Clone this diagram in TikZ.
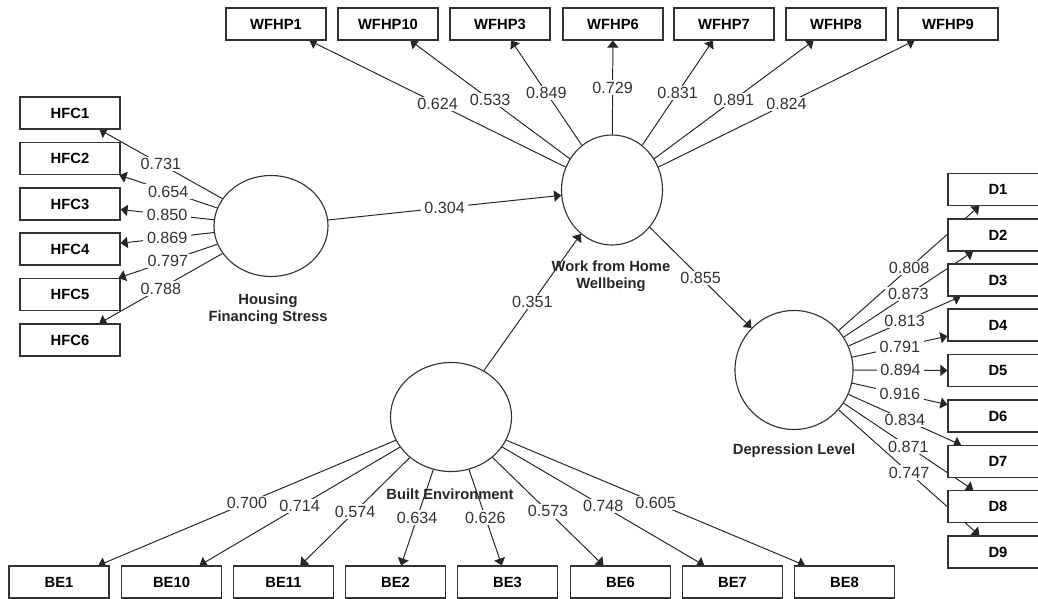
\documentclass[tikz,border=0pt]{standalone}
\usepackage{fontspec}
\setmainfont{Liberation Sans}
\usetikzlibrary{arrows.meta,shapes.geometric,backgrounds}
\tikzset{
	ind/.style={draw=black!80, line width=0.8pt, fill=white, minimum width=2.5cm, minimum height=0.8cm, inner sep=0pt, font=\fontsize{10.5}{12}\selectfont\bfseries},
	lat/.style={draw=black!80, line width=0.8pt, ellipse, fill=white, inner sep=0pt},
	latname/.style={align=center, text=black!85, font=\fontsize{10.5}{12}\selectfont\bfseries},
	ldg/.style={draw=black!85, line width=0.7pt, -{Triangle[length=5pt,width=8pt]}},
	coef/.style={fill=white, inner xsep=2.5pt, inner ysep=1pt, text=black!80, font=\fontsize{11.5}{12}\selectfont},
}

\begin{document}
\begin{tikzpicture}[x=0.025cm, y=-0.025cm]
		%%%%% START %%%%%
		\useasboundingbox (0,0) rectangle (1038,598);
		
		% latent variables
		\node[lat, minimum width=2.85cm, minimum height=2.525cm] (hfs) at (271,226) {};
		\node[latname] (hfsname) at (268,309) {Housing\\Financing Stress};
		\node[lat, minimum width=2.525cm, minimum height=2.75cm] (wfh) at (612,190) {};
		\node[latname] (wfhname) at (611,276) {Work from Home\\Wellbeing};
		\node[lat, minimum width=2.95cm, minimum height=2.975cm] (dep) at (794,370) {};
		\node[latname] (depname) at (794,451) {Depression Level};
		\node[lat, minimum width=3.025cm, minimum height=2.725cm] (be) at (451,417) {};
		\node[latname] (bename) at (450,494) {Built Environment};
		
		% work from home items
		\node[ind] (wfhp1) at (276,24) {WFHP1};
		\node[ind] (wfhp10) at (388,24) {WFHP10};
		\node[ind] (wfhp3) at (500,24) {WFHP3};
		\node[ind] (wfhp6) at (613,24) {WFHP6};
		\node[ind] (wfhp7) at (724,24) {WFHP7};
		\node[ind] (wfhp8) at (836,24) {WFHP8};
		\node[ind] (wfhp9) at (948,24) {WFHP9};
		
		% housing items
		\node[ind] (hfc1) at (70,113) {HFC1};
		\node[ind] (hfc2) at (70,158.5) {HFC2};
		\node[ind] (hfc3) at (70,204) {HFC3};
		\node[ind] (hfc4) at (70,249) {HFC4};
		\node[ind] (hfc5) at (70,294.5) {HFC5};
		\node[ind] (hfc6) at (70,340) {HFC6};
		
		% depression items
		\node[ind] (d1) at (998,189.5) {D1};
		\node[ind] (d2) at (998,235) {D2};
		\node[ind] (d3) at (998,280) {D3};
		\node[ind] (d4) at (998,325) {D4};
		\node[ind] (d5) at (998,370.5) {D5};
		\node[ind] (d6) at (998,416) {D6};
		\node[ind] (d7) at (998,461.5) {D7};
		\node[ind] (d8) at (998,506.5) {D8};
		\node[ind] (d9) at (998,552) {D9};
		
		% built environment items
		\node[ind] (be1) at (59,582) {BE1};
		\node[ind] (be10) at (171.5,582) {BE10};
		\node[ind] (be11) at (283.5,582) {BE11};
		\node[ind] (be2) at (395.5,582) {BE2};
		\node[ind] (be3) at (507.5,582) {BE3};
		\node[ind] (be6) at (620.5,582) {BE6};
		\node[ind] (be7) at (732.5,582) {BE7};
		\node[ind] (be8) at (844.5,582) {BE8};
		
		\begin{pgfonlayer}{background}
		% paths
		\draw[ldg] (hfs) -- (wfh) node[coef, midway] {0.304};
		\draw[ldg] (be) -- (wfh) node[coef, midway] {0.351};
		\draw[ldg] (wfh) -- (dep) node[coef, midway] {0.855};
		
		% loadings
		\draw[ldg] (wfh) -- (wfhp1) node[coef, midway] {0.624};
		\draw[ldg] (wfh) -- (wfhp10) node[coef, midway] {0.533};
		\draw[ldg] (wfh) -- (wfhp3) node[coef, midway] {0.849};
		\draw[ldg] (wfh) -- (wfhp6) node[coef, midway] {0.729};
		\draw[ldg] (wfh) -- (wfhp7) node[coef, midway] {0.831};
		\draw[ldg] (wfh) -- (wfhp8) node[coef, midway] {0.891};
		\draw[ldg] (wfh) -- (wfhp9) node[coef, midway] {0.824};
		
		\draw[ldg] (hfs) -- (hfc1) node[coef, midway] {0.731};
		\draw[ldg] (hfs) -- (hfc2) node[coef, midway] {0.654};
		\draw[ldg] (hfs) -- (hfc3) node[coef, midway] {0.850};
		\draw[ldg] (hfs) -- (hfc4) node[coef, midway] {0.869};
		\draw[ldg] (hfs) -- (hfc5) node[coef, midway] {0.797};
		\draw[ldg] (hfs) -- (hfc6) node[coef, midway] {0.788};
		
		\draw[ldg] (dep) -- (d1) node[coef, midway] {0.808};
		\draw[ldg] (dep) -- (d2) node[coef, midway] {0.873};
		\draw[ldg] (dep) -- (d3) node[coef, midway] {0.813};
		\draw[ldg] (dep) -- (d4) node[coef, midway] {0.791};
		\draw[ldg] (dep) -- (d5) node[coef, midway] {0.894};
		\draw[ldg] (dep) -- (d6) node[coef, midway] {0.916};
		\draw[ldg] (dep) -- (d7) node[coef, midway] {0.834};
		\draw[ldg] (dep) -- (d8) node[coef, midway] {0.871};
		\draw[ldg] (dep) -- (d9) node[coef, midway] {0.747};
		
		\draw[ldg] (be) -- (be1) node[coef, midway] {0.700};
		\draw[ldg] (be) -- (be10) node[coef, midway] {0.714};
		\draw[ldg] (be) -- (be11) node[coef, midway] {0.574};
		\draw[ldg] (be) -- (be2) node[coef, midway] {0.634};
		\draw[ldg] (be) -- (be3) node[coef, midway] {0.626};
		\draw[ldg] (be) -- (be6) node[coef, midway] {0.573};
		\draw[ldg] (be) -- (be7) node[coef, midway] {0.748};
		\draw[ldg] (be) -- (be8) node[coef, midway] {0.605};
		\end{pgfonlayer}
		
		%%%%% END %%%%%
\end{tikzpicture}
\end{document}
